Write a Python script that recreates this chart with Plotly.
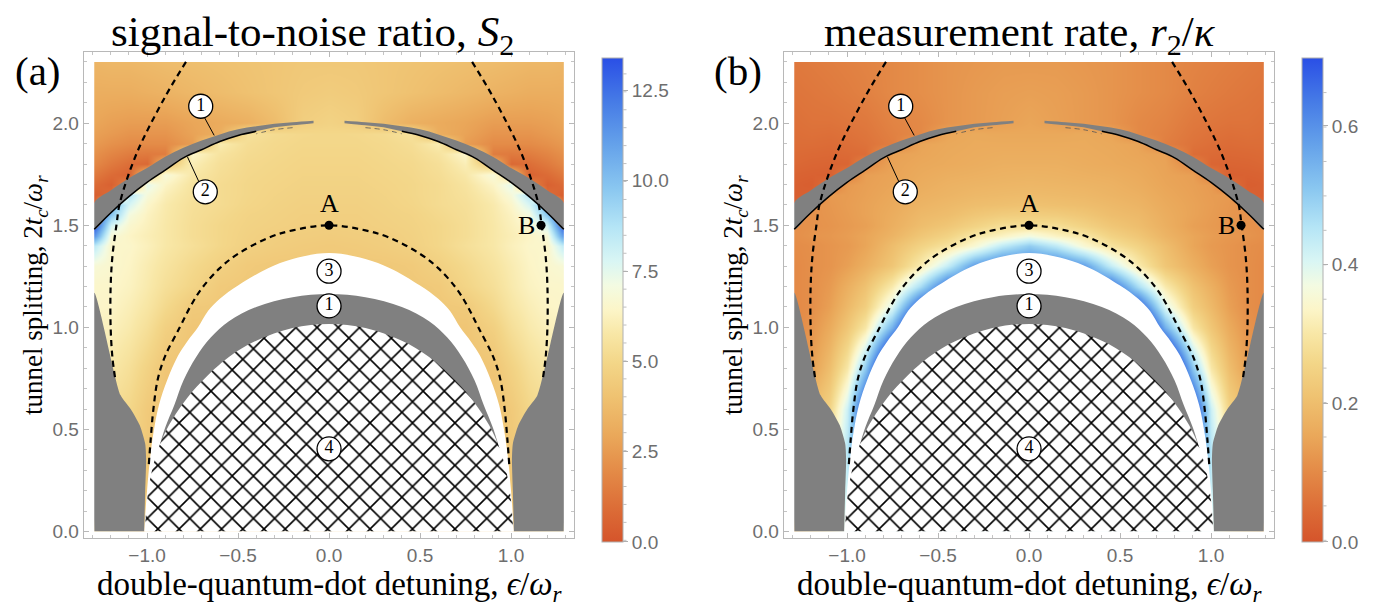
import plotly.graph_objects as go

W, H = 1385, 606

# ---------------- data ----------------
# heat-map samples, right half (x >= 0); the maps are mirror-symmetric in x
x_half = [0.0, 0.15, 0.3, 0.45, 0.6, 0.75, 0.9, 1.0, 1.1, 1.2, 1.29]
y_rows = [0.0, 0.4, 0.6, 0.8, 1.0, 1.1, 1.2, 1.3, 1.4, 1.45, 1.5, 1.55, 1.6, 1.65,
          1.7, 1.75, 1.8, 1.85, 1.9, 1.95, 2.0, 2.15, 2.3]

snr_half = [
    [4.2, 4.2, 4.2, 4.2, 4.2, 4.2, 4.2, 4.2, 4.6, 5.0, 5.2],
    [4.1, 4.1, 4.1, 4.1, 4.1, 4.1, 4.1, 4.3, 4.8, 5.1, 5.2],
    [4.1, 4.1, 4.1, 4.1, 4.1, 4.1, 4.1, 4.4, 5.0, 5.3, 5.4],
    [4.1, 4.1, 4.1, 4.1, 4.1, 4.1, 4.2, 4.8, 5.4, 5.8, 5.9],
    [4.2, 4.2, 4.2, 4.2, 4.2, 4.2, 4.7, 5.4, 5.9, 6.2, 6.3],
    [4.3, 4.3, 4.3, 4.3, 4.3, 4.4, 5.1, 5.7, 6.1, 6.4, 6.5],
    [4.3, 4.3, 4.3, 4.3, 4.4, 4.9, 5.4, 5.9, 6.3, 6.5, 6.5],
    [4.3, 4.3, 4.3, 4.4, 4.7, 5.1, 5.6, 6.0, 6.4, 6.6, 6.8],
    [4.4, 4.45, 4.55, 4.7, 5.0, 5.4, 5.8, 6.2, 6.5, 6.5, 8.5],
    [4.5, 4.55, 4.6, 4.75, 5.0, 5.3, 5.8, 6.1, 6.4, 6.8, 11.5],
    [4.6, 4.6, 4.7, 4.8, 5.0, 5.3, 5.8, 6.2, 6.6, 7.8, 13.3],
    [4.65, 4.65, 4.75, 4.85, 5.1, 5.35, 5.85, 6.3, 7.0, 9.8, 13.3],
    [4.7, 4.7, 4.8, 4.95, 5.2, 5.4, 5.9, 6.5, 7.8, 10.5, 0.3],
    [4.75, 4.75, 4.85, 5.0, 5.2, 5.5, 6.1, 6.9, 8.7, 1.0, 0.4],
    [4.8, 4.8, 4.9, 5.0, 5.2, 5.6, 6.4, 7.5, 2.0, 0.5, 0.9],
    [4.85, 4.85, 4.95, 5.05, 5.3, 5.8, 6.9, 4.5, 0.6, 0.9, 1.4],
    [4.9, 4.9, 5.0, 5.1, 5.4, 6.1, 4.0, 0.8, 1.0, 1.4, 1.9],
    [4.95, 4.95, 5.05, 5.2, 5.6, 6.5, 1.5, 1.4, 1.5, 1.8, 2.2],
    [5.0, 5.0, 5.1, 5.3, 6.0, 2.6, 2.0, 2.0, 2.0, 2.2, 2.5],
    [5.0, 5.05, 5.2, 5.5, 3.2, 2.8, 2.3, 2.3, 2.3, 2.5, 2.7],
    [4.8, 4.6, 3.8, 3.3, 3.1, 2.9, 2.6, 2.6, 2.6, 2.7, 2.9],
    [4.5, 4.4, 4.2, 4.0, 3.8, 3.6, 3.4, 3.3, 3.2, 3.2, 3.2],
    [4.3, 4.3, 4.2, 4.1, 4.0, 3.9, 3.8, 3.7, 3.6, 3.6, 3.5],
]

rate_half = [
    [0.4, 0.4, 0.4, 0.4, 0.4, 0.4, 0.4, 0.4, 0.3, 0.25, 0.2],
    [0.7, 0.7, 0.7, 0.7, 0.7, 0.7, 0.7, 0.45, 0.3, 0.22, 0.2],
    [0.7, 0.7, 0.7, 0.7, 0.7, 0.7, 0.73, 0.42, 0.25, 0.2, 0.2],
    [0.7, 0.7, 0.7, 0.7, 0.7, 0.95, 0.5, 0.3, 0.2, 0.14, 0.12],
    [0.7, 0.7, 0.7, 0.7, 0.9, 0.55, 0.3, 0.22, 0.16, 0.12, 0.1],
    [0.7, 0.7, 0.7, 0.7, 0.7, 0.4, 0.24, 0.19, 0.14, 0.11, 0.1],
    [0.65, 0.65, 0.65, 0.665, 0.47, 0.31, 0.21, 0.17, 0.13, 0.11, 0.1],
    [0.64, 0.65, 0.58, 0.43, 0.31, 0.22, 0.17, 0.14, 0.12, 0.11, 0.1],
    [0.5, 0.44, 0.35, 0.29, 0.25, 0.2, 0.15, 0.13, 0.12, 0.11, 0.105],
    [0.37, 0.33, 0.3, 0.25, 0.22, 0.18, 0.15, 0.135, 0.125, 0.12, 0.11],
    [0.28, 0.28, 0.25, 0.22, 0.2, 0.17, 0.14, 0.13, 0.12, 0.115, 0.11],
    [0.24, 0.235, 0.22, 0.2, 0.19, 0.165, 0.145, 0.133, 0.123, 0.115, 0.11],
    [0.21, 0.205, 0.2, 0.19, 0.18, 0.16, 0.145, 0.135, 0.125, 0.115, 0.02],
    [0.195, 0.192, 0.188, 0.18, 0.172, 0.155, 0.142, 0.133, 0.13, 0.03, 0.02],
    [0.185, 0.183, 0.18, 0.175, 0.165, 0.15, 0.14, 0.13, 0.06, 0.02, 0.025],
    [0.178, 0.176, 0.172, 0.168, 0.16, 0.147, 0.138, 0.08, 0.025, 0.027, 0.03],
    [0.17, 0.17, 0.165, 0.16, 0.155, 0.145, 0.1, 0.035, 0.033, 0.035, 0.04],
    [0.165, 0.165, 0.162, 0.158, 0.15, 0.142, 0.05, 0.045, 0.04, 0.042, 0.045],
    [0.16, 0.16, 0.16, 0.155, 0.148, 0.08, 0.06, 0.052, 0.047, 0.05, 0.05],
    [0.155, 0.155, 0.158, 0.15, 0.1, 0.085, 0.065, 0.058, 0.053, 0.055, 0.052],
    [0.15, 0.14, 0.13, 0.12, 0.1, 0.09, 0.07, 0.065, 0.06, 0.06, 0.055],
    [0.14, 0.137, 0.13, 0.12, 0.11, 0.1, 0.085, 0.078, 0.072, 0.067, 0.063],
    [0.13, 0.13, 0.125, 0.12, 0.11, 0.1, 0.09, 0.085, 0.08, 0.075, 0.07],
]

# region boundaries (right half, from the centre line outward)
white_x = [0.0, 0.2, 0.335, 0.5, 0.6, 0.665, 0.72, 0.78, 0.83, 0.89, 0.935, 0.975, 1.0, 1.016]
white_y = [1.364, 1.335, 1.29, 1.205, 1.14, 1.08, 1.0, 0.93, 0.861, 0.74, 0.618, 0.42, 0.2, 0.0]
gray_in_x = [0.0, 0.2, 0.4, 0.55, 0.65, 0.73, 0.8, 0.85, 0.9, 0.935]
gray_in_y = [1.163, 1.148, 1.1, 1.03, 0.95, 0.855, 0.74, 0.62, 0.51, 0.41]
hatch_x = [0.0, 0.2, 0.4, 0.55, 0.7, 0.8, 0.88, 0.94, 0.98, 1.0, 1.012]
hatch_y = [1.017, 0.997, 0.935, 0.855, 0.735, 0.63, 0.52, 0.40, 0.27, 0.15, 0.0]
side_x = [1.016, 1.01, 1.005, 1.01, 1.04, 1.09, 1.145, 1.29, 1.29]
side_y = [0.0, 0.2, 0.35, 0.43, 0.52, 0.6, 0.667, 1.17, 0.0]
cres_x = [0.085, 0.2, 0.3, 0.4, 0.5, 0.6, 0.7, 0.8, 0.9, 1.0, 1.1, 1.2, 1.29]
cres_low = [2.0, 1.99, 1.98, 1.96, 1.94, 1.91, 1.87, 1.83, 1.77, 1.71, 1.64, 1.56, 1.48]
cres_up = [2.012, 2.005, 1.997, 1.985, 1.97, 1.945, 1.915, 1.88, 1.835, 1.78, 1.73, 1.67, 1.61]
inner_dash_x = [0.0, 0.2, 0.33, 0.5, 0.6, 0.7, 0.76, 0.82, 0.9, 0.94, 0.965, 0.98, 0.99]
inner_dash_y = [1.5, 1.475, 1.44, 1.36, 1.29, 1.19, 1.105, 1.0, 0.86, 0.75, 0.6, 0.45, 0.33]
outer_dash_x = [0.786, 0.9, 1.058, 1.15, 1.167, 1.19, 1.2, 1.2, 1.19, 1.175]
outer_dash_y = [2.3, 2.13, 1.85, 1.607, 1.507, 1.35, 1.2, 1.0, 0.85, 0.75]
data_x = [-1.29, 1.29]
data_y = [0.0, 2.3]

pts_x = [0.0, 1.165]
pts_y = [1.5, 1.5]
pts_lab = ["A", "B"]
circ_x = [-0.705, -0.68, 0.0, 0.0, 0.0]
circ_y = [2.083, 1.664, 1.275, 1.105, 0.405]
circ_lab = ["1", "2", "3", "1", "4"]
lead1_x, lead1_y = [-0.69, -0.631], [2.037, 1.94]
lead2_x, lead2_y = [-0.715, -0.778], [1.713, 1.835]

cb_snr_major = [0.0, 2.5, 5.0, 7.5, 10.0, 12.5]
cb_snr_minor = [i * 0.5 for i in range(27)]
cb_rate_major = [0.0, 0.2, 0.4, 0.6]
cb_rate_minor = [i * 0.05 for i in range(14)]

colorscale = [
    [0.00, "#d5542b"], [0.07, "#dc6d37"], [0.15, "#e48c48"], [0.22, "#eaa85a"],
    [0.30, "#efc271"], [0.37, "#f3d688"], [0.43, "#f8e7a6"], [0.48, "#fcf5c8"],
    [0.53, "#f3fbe2"], [0.58, "#d9f6f4"], [0.65, "#b5e5f6"], [0.73, "#8ac7f0"],
    [0.82, "#65a2ea"], [0.91, "#467be6"], [1.00, "#2a4fe6"],
]

GRAY = "#808080"
SERIF = "Liberation Serif"
SANS = "Liberation Sans"
TICKC = "#6e6e6e"
CB_TOP, CB_LEN = 51.85, 484.0


def mirror(xs, ys):
    """full curve from left end over the centre to the right end"""
    lx = [-v for v in reversed(xs)]
    ly = list(reversed(ys))
    if xs[0] == 0:
        return lx + list(xs[1:]), ly + list(ys[1:])
    return lx + list(xs), ly + list(ys)


x_full = [-v for v in reversed(x_half[1:])] + x_half

fig = go.Figure()
shapes = []

panels = [
    dict(z=snr_half, zmax=13.4, major=cb_snr_major, minor=cb_snr_minor, off=0, xa="x", ya="y"),
    dict(z=rate_half, zmax=0.698, major=cb_rate_major, minor=cb_rate_minor, off=700, xa="x2", ya="y2"),
]

for p in panels:
    off = p["off"]
    z_full = [list(reversed(r[1:])) + r for r in p["z"]]
    fig.add_trace(go.Heatmap(
        x=x_full, y=y_rows, z=z_full, zmin=0, zmax=p["zmax"], zsmooth="best",
        colorscale=colorscale, xaxis=p["xa"], yaxis=p["ya"], hoverinfo="skip",
        colorbar=dict(
            x=(594.3 + off) / W, xanchor="left", xpad=0, ypad=0,
            y=1 - (CB_TOP + CB_LEN / 2) / H, yanchor="middle", len=CB_LEN, lenmode="pixels",
            thickness=21, thicknessmode="pixels", outlinewidth=1, outlinecolor="#b0b0b0",
            tickmode="array", tickvals=p["major"], ticktext=[f"{v:.1f}" for v in p["major"]],
            ticks="outside", ticklen=5, tickcolor="#b0b0b0", tickwidth=1,
            tickfont=dict(family=SANS, size=19, color=TICKC),
        ),
    ))
    # minor colour-bar ticks
    for v in p["minor"]:
        yp = 1 - (CB_TOP + CB_LEN * (1 - v / p["zmax"])) / H
        shapes.append(dict(type="line", xref="paper", yref="paper",
                           x0=(615.3 + off) / W, x1=(618.5 + off) / W, y0=yp, y1=yp,
                           line=dict(color="#c0c0c0", width=1)))

    def poly(xs, ys, color, pattern=None, smooth=1.0):
        kw = dict(x=xs, y=ys, mode="lines", fill="toself", fillcolor=color,
                  line=dict(width=0, color=color, shape="spline", smoothing=smooth),
                  xaxis=p["xa"], yaxis=p["ya"], hoverinfo="skip", showlegend=False)
        if pattern:
            kw["fillpattern"] = pattern
        fig.add_trace(go.Scatter(**kw))

    wx, wy = mirror(white_x, white_y)
    poly(wx, wy, "white")
    gx, gy = mirror(gray_in_x, gray_in_y)
    poly(gx, gy, GRAY)
    hx, hy = mirror(hatch_x, hatch_y)
    poly(hx, hy, "white", pattern=dict(shape="x", fgcolor="black", bgcolor="white",
                                       size=15, solidity=0.2, fillmode="replace"))
    poly(side_x, side_y, GRAY, smooth=0.6)
    poly([-v for v in side_x], side_y, GRAY, smooth=0.6)
    cx = cres_x + list(reversed(cres_x))
    cy = cres_low + list(reversed(cres_up))
    poly(cx, cy, GRAY)
    poly([-v for v in cx], cy, GRAY)

    # white padding between the data area and the frame
    x0, x1 = -1.348, 1.346
    y0, y1 = -0.034, 2.35
    for rx, ry in [
        ([x0, data_x[0], data_x[0], x0], [y0, y0, y1, y1]),
        ([data_x[1], x1, x1, data_x[1]], [y0, y0, y1, y1]),
        ([x0, x1, x1, x0], [y0, y0, data_y[0], data_y[0]]),
        ([x0, x1, x1, x0], [data_y[1], data_y[1], y1, y1]),
    ]:
        fig.add_trace(go.Scatter(x=rx, y=ry, mode="lines", fill="toself", fillcolor="white",
                                 line=dict(width=0), xaxis=p["xa"], yaxis=p["ya"],
                                 hoverinfo="skip", showlegend=False))

    # black contour along the lower side of the outer crescent
    solid_idx = [i for i, v in enumerate(cres_x) if v >= 0.37]
    thin_idx = [i for i, v in enumerate(cres_x) if 0.2 <= v <= 0.4]
    for sgn in (1, -1):
        fig.add_trace(go.Scatter(
            x=[sgn * cres_x[i] for i in solid_idx], y=[cres_low[i] for i in solid_idx],
            mode="lines", line=dict(color="black", width=1.5, shape="spline"),
            xaxis=p["xa"], yaxis=p["ya"], hoverinfo="skip", showlegend=False))
        fig.add_trace(go.Scatter(
            x=[sgn * cres_x[i] for i in thin_idx], y=[cres_low[i] - 0.012 for i in thin_idx],
            mode="lines", line=dict(color="#555555", width=0.8, dash="5px,4px", shape="spline"),
            xaxis=p["xa"], yaxis=p["ya"], hoverinfo="skip", showlegend=False))

    # dashed curves
    dash = dict(color="black", width=2.2, dash="6px,4.5px", shape="spline")
    ix, iy = mirror(inner_dash_x, inner_dash_y)
    fig.add_trace(go.Scatter(x=ix, y=iy, mode="lines", line=dash, xaxis=p["xa"], yaxis=p["ya"],
                             hoverinfo="skip", showlegend=False))
    for sgn in (1, -1):
        fig.add_trace(go.Scatter(x=[sgn * v for v in outer_dash_x], y=outer_dash_y, mode="lines",
                                 line=dash, xaxis=p["xa"], yaxis=p["ya"],
                                 hoverinfo="skip", showlegend=False))

    # leader lines
    for lx, ly in [(lead1_x, lead1_y), (lead2_x, lead2_y)]:
        fig.add_trace(go.Scatter(x=lx, y=ly, mode="lines", line=dict(color="black", width=1),
                                 xaxis=p["xa"], yaxis=p["ya"], hoverinfo="skip", showlegend=False))

    # circled region numbers
    fig.add_trace(go.Scatter(
        x=circ_x, y=circ_y, mode="markers+text", text=circ_lab, textposition="middle center",
        textfont=dict(family=SERIF, size=18, color="black"),
        marker=dict(symbol="circle", size=24, color="white", line=dict(color="black", width=1.3)),
        xaxis=p["xa"], yaxis=p["ya"], hoverinfo="skip", showlegend=False))

    # points A and B
    fig.add_trace(go.Scatter(
        x=pts_x, y=pts_y, mode="markers", marker=dict(color="black", size=9),
        xaxis=p["xa"], yaxis=p["ya"], hoverinfo="skip", showlegend=False))

ann = []
for off, lab, title, tx in [
    (0, "(a)", "signal-to-noise ratio, <i>S</i><sub>2</sub>", 304),
    (700, "(b)", "measurement rate, <i>r</i><sub>2</sub>/<i>κ</i>", 1012),
]:
    ann.append(dict(x=tx / W, y=1 - 27 / H, xref="paper", yref="paper", text=title,
                    showarrow=False, xanchor="center", yanchor="middle",
                    font=dict(family=SERIF, size=43, color="black")))
    ann.append(dict(x=(30 + off) / W, y=1 - 63 / H, xref="paper", yref="paper", text=lab,
                    showarrow=False, xanchor="center", yanchor="middle",
                    font=dict(family=SERIF, size=41, color="black")))
    ann.append(dict(x=(321 + off) / W, y=1 - 582 / H, xref="paper", yref="paper",
                    text="double-quantum-dot detuning, <i>ϵ</i>/<i>ω</i><sub><i>r</i></sub>",
                    showarrow=False, xanchor="center", yanchor="middle",
                    font=dict(family=SERIF, size=33, color="black")))
    ann.append(dict(x=(27 + off) / W, y=1 - 289 / H, xref="paper", yref="paper",
                    text="tunnel splitting, 2<i>t</i><sub><i>c</i></sub>/<i>ω</i><sub><i>r</i></sub>",
                    showarrow=False, xanchor="center", yanchor="middle", textangle=-90,
                    font=dict(family=SERIF, size=27, color="black")))

for xa, ya in [("x", "y"), ("x2", "y2")]:
    for lab, px, py in zip(pts_lab, pts_x, pts_y):
        if lab == "A":
            ann.append(dict(x=px, y=py, xref=xa, yref=ya, text=lab, showarrow=False,
                            xanchor="center", yanchor="bottom", yshift=5,
                            font=dict(family=SERIF, size=26, color="black")))
        else:
            ann.append(dict(x=px, y=py, xref=xa, yref=ya, text=lab, showarrow=False,
                            xanchor="right", yanchor="middle", xshift=-4,
                            font=dict(family=SERIF, size=26, color="black")))

axis_common = dict(showgrid=False, zeroline=False, showline=True, mirror="ticks",
                   linecolor="#b8b8b8", linewidth=1, ticks="inside", ticklen=5,
                   tickcolor="#b8b8b8", tickwidth=1, dtick=0.5, tick0=0, tickformat=".1f",
                   tickfont=dict(family=SANS, size=19, color=TICKC),
                   minor=dict(dtick=0.1, ticks="inside", ticklen=3, tickcolor="#c4c4c4"),
                   fixedrange=True)

fig.update_layout(
    width=W, height=H, margin=dict(l=0, r=0, t=0, b=0),
    paper_bgcolor="white", plot_bgcolor="white", showlegend=False,
    xaxis=dict(domain=[75.7 / W, 566 / W], range=[-1.348, 1.346], anchor="y", **axis_common),
    yaxis=dict(domain=[1 - 534 / H, 1 - 44 / H], range=[-0.034, 2.35], anchor="x", **axis_common),
    xaxis2=dict(domain=[775.7 / W, 1266 / W], range=[-1.348, 1.346], anchor="y2", **axis_common),
    yaxis2=dict(domain=[1 - 534 / H, 1 - 44 / H], range=[-0.034, 2.35], anchor="x2", **axis_common),
    annotations=ann, shapes=shapes,
)

fig.write_html("out.html")
